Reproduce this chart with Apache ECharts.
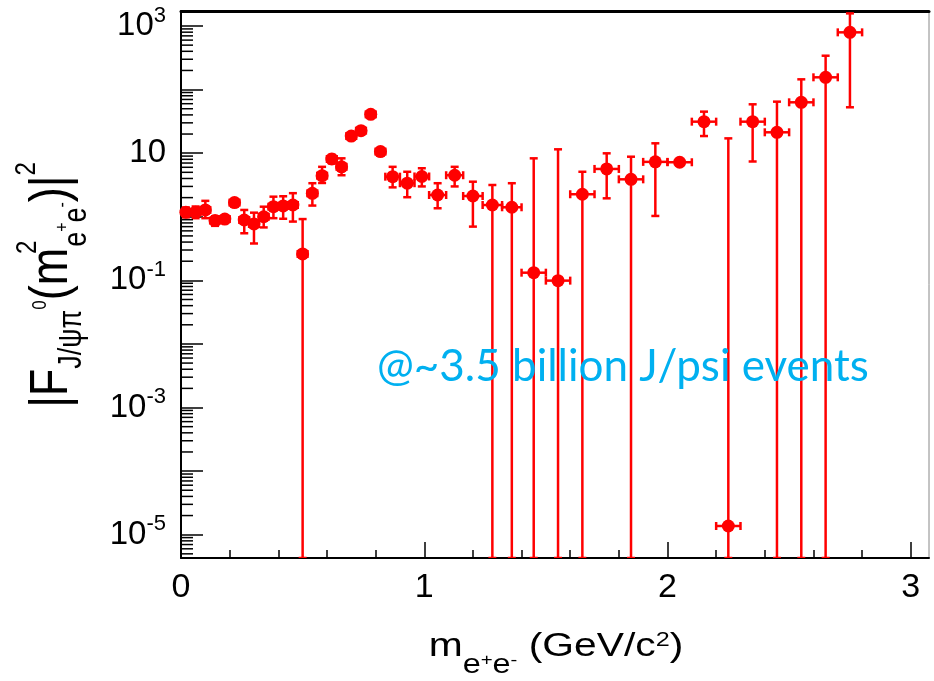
<!DOCTYPE html>
<html><head><meta charset="utf-8">
<script src="https://cdn.jsdelivr.net/npm/echarts@6/dist/echarts.min.js"></script>
<style>html,body{margin:0;padding:0;background:#fff}#c{width:934px;height:681px}</style>
</head><body><div id="c"></div>
<script>
// ---- data ----
const xCenter = [0.02,0.06,0.10,0.14,0.18,0.22,0.26,0.30,0.34,0.38,0.42,0.46,0.50,0.54,0.58,0.62,0.66,0.70,0.74,0.78,0.82,
                 0.87,0.93,0.99,1.055,1.125,1.20,1.28,1.36,1.45,1.55,1.65,1.75,1.85,1.95,2.05,2.15,2.25,2.35,2.45,2.55,2.65,2.75];
const xHalf   = [0.02,0.02,0.02,0.02,0.02,0.02,0.02,0.02,0.02,0.02,0.02,0.02,0.02,0.02,0.02,0.02,0.02,0.02,0.02,0.02,0.02,
                 0.03,0.03,0.03,0.035,0.035,0.04,0.04,0.04,0.05,0.05,0.05,0.05,0.05,0.05,0.05,0.05,0.05,0.05,0.05,0.05,0.05,0.05];
const yValue  = [1.18,1.18,1.28,0.87,0.92,1.67,0.89,0.77,1.00,1.44,1.48,1.53,0.26,2.34,4.43,8.1,6.1,18.6,22.6,40.8,10.6,
                 4.27,3.37,4.3,2.2,4.5,2.12,1.53,1.41,0.132,0.099,2.26,5.65,3.88,7.3,7.2,31.3,1.37e-5,31.3,21.3,63.1,156,795];
// null = error bar runs below the bottom of the axis
const yLow    = [0.98,0.95,0.95,0.72,0.80,1.45,0.55,0.38,0.68,0.95,0.93,0.84,null,1.5,3.4,6.9,4.5,17,20.5,37,9.3,
                 2.9,2.03,3.0,1.36,3.0,0.70,null,null,null,null,null,1.95,null,1.03,6.6,18.6,null,7.4,null,null,null,52.7];
const yHigh   = [1.40,1.45,1.78,1.02,1.05,1.90,1.28,1.16,1.44,2.07,2.10,2.35,0.92,3.37,6.1,9.4,8.3,20.5,25,45,12,
                 6.1,5.1,5.8,3.37,6.1,3.56,3.16,3.37,8.3,11.5,5.1,9.95,8.8,14.3,7.9,45,17.1,58.7,64.6,145,341,1580];

const xTickValues = [0, 1, 2, 3];
const xTickTexts = ['0', '1', '2', '3'];
const yLabelValues = [1e3, 10, 1e-1, 1e-3, 1e-5];
const yLabelTexts = ['10{s|3}', '10', '10{s|-1}', '10{s|-3}', '10{s|-5}'];
const yMinorMultipliers = [2, 3, 4, 5, 6, 7, 8, 9];
const yDecades = [1e-6, 1e-5, 1e-4, 1e-3, 1e-2, 1e-1, 1, 10, 100, 1000];

const X_MIN = 0, X_MAX = 3.075, Y_MIN = 4.3e-6, Y_MAX = 1722;
const annotation = '@~3.5 billion J/psi events';
const xTitle = 'm{sb|e}{ss|+}{sb|e}{ss|-} (GeV/c{sp|2})';
const yTitle = '|F{sb|J/ψπ}{ss|0}(m{sp2|2}{sb2|e}{ss2|+}{sb2|e}{ss2|-})|{sp|2}';

// ---- build ----
const RED = '#ff0000';
const FONT = 'Liberation Sans';
const errData = xCenter.map((x, i) => [x, yValue[i], xHalf[i], yLow[i] == null ? Y_MIN : yLow[i], yHigh[i]]);
const ptData = xCenter.map((x, i) => [x, yValue[i]]);
const minorData = [];
yDecades.forEach(d => yMinorMultipliers.forEach(m => { const v = d * m; if (v > Y_MIN && v < Y_MAX) minorData.push([X_MIN, v]); }));

function renderErr(params, api) {
  const x = api.value(0), y = api.value(1), dx = api.value(2);
  const lo = Math.max(api.value(3), Y_MIN), hi = Math.min(api.value(4), Y_MAX);
  const pLo = api.coord([x, lo]), pHi = api.coord([x, hi]);
  const pL = api.coord([x - dx, y]), pR = api.coord([x + dx, y]);
  const cap = 4;
  const st = { stroke: RED, lineWidth: 2.5 };
  const L = (x1, y1, x2, y2) => ({ type: 'line', shape: { x1, y1, x2, y2 }, style: st });
  return { type: 'group', children: [
    L(pLo[0], pLo[1], pHi[0], pHi[1]),
    L(pLo[0] - cap, pLo[1], pLo[0] + cap, pLo[1]),
    L(pHi[0] - cap, pHi[1], pHi[0] + cap, pHi[1]),
    L(pL[0], pL[1], pR[0], pR[1]),
    L(pL[0], pL[1] - cap, pL[0], pL[1] + cap),
    L(pR[0], pR[1] - cap, pR[0], pR[1] + cap)
  ]};
}
function renderMinor(params, api) {
  const p = api.coord([api.value(0), api.value(1)]);
  return { type: 'line', shape: { x1: p[0], y1: p[1], x2: p[0] + 12, y2: p[1] }, style: { stroke: '#000', lineWidth: 1.5 } };
}

const chart = echarts.init(document.getElementById('c'), null, { renderer: 'canvas' });
chart.setOption({
  animation: false,
  backgroundColor: '#fff',
  grid: { left: 181, right: 5, top: 11, bottom: 123, show: true, borderColor: '#888', borderWidth: 1, outerBoundsMode: 'none', containLabel: false },
  xAxis: [{
    type: 'value', min: X_MIN, max: X_MAX, interval: 1, position: 'bottom',
    axisLine: { show: true, onZero: false, lineStyle: { color: '#000', width: 2 } },
    axisTick: { show: true, inside: true, length: 16, customValues: xTickValues, lineStyle: { color: '#000', width: 1.5 } },
    minorTick: { show: true, splitNumber: 5, length: 8, lineStyle: { color: '#000', width: 1.5 } },
    axisLabel: { customValues: xTickValues, formatter: v => { const i = xTickValues.indexOf(v); return i >= 0 ? xTickTexts[i] : ''; },
                 fontSize: 34, fontFamily: FONT, color: '#000', margin: 13 },
    splitLine: { show: false }
  }, {
    type: 'value', min: X_MIN, max: X_MAX, position: 'top',
    axisLine: { show: true, onZero: false, lineStyle: { color: '#000', width: 3 } },
    axisTick: { show: false }, axisLabel: { show: false }, splitLine: { show: false }
  }],
  yAxis: {
    type: 'log', logBase: 10, min: Y_MIN, max: Y_MAX,
    axisLine: { show: true, onZero: false, lineStyle: { color: '#000', width: 2 } },
    axisTick: { show: true, inside: true, length: 22, lineStyle: { color: '#000', width: 1.5 } },
    minorTick: { show: false },
    splitLine: { show: false },
    axisLabel: {
      margin: 15, fontSize: 33, fontFamily: FONT, color: '#000', lineHeight: 33,
      formatter: v => {
        for (let i = 0; i < yLabelValues.length; i++) {
          if (Math.abs(Math.log10(v) - Math.log10(yLabelValues[i])) < 1e-6) return yLabelTexts[i];
        }
        return '';
      },
      rich: { s: { fontSize: 22, fontFamily: FONT, color: '#000', padding: [0, 0, 21, 0] } }
    }
  },
  graphic: [
    { type: 'text', x: 52, y: 285, rotation: Math.PI / 2, scaleY: 1.2, silent: true,
      style: {
        text: yTitle,
        fontSize: 45, fontFamily: FONT, fill: '#000', align: 'center', verticalAlign: 'middle', lineHeight: 45,
        rich: {
          sb: { fontSize: 27, fontFamily: FONT, fill: '#000', padding: [33, 0, 0, 0] },
          ss: { fontSize: 17, fontFamily: FONT, fill: '#000', padding: [0, 0, 20, 0] },
          sp2: { fontSize: 24, fontFamily: FONT, fill: '#000', padding: [0, 0, 40, 0], width: 1 },
          sb2: { fontSize: 27, fontFamily: FONT, fill: '#000', padding: [41, 0, 0, 0] },
          ss2: { fontSize: 16, fontFamily: FONT, fill: '#000', padding: [18, 0, 0, 0] },
          sp: { fontSize: 24, fontFamily: FONT, fill: '#000', padding: [0, 0, 42, 0] }
        }
      } },
    { type: 'text', x: 556, y: 647, scaleX: 1.2, silent: true,
      style: {
        text: xTitle,
        fontSize: 34, fontFamily: FONT, fill: '#000', align: 'center', verticalAlign: 'middle', lineHeight: 34,
        rich: {
          sb: { fontSize: 27, fontFamily: FONT, fill: '#000', padding: [38, 0, 0, 0] },
          ss: { fontSize: 17, fontFamily: FONT, fill: '#000', padding: [26, 0, 0, 0] },
          sp: { fontSize: 21, fontFamily: FONT, fill: '#000', padding: [0, 0, 14, 0] }
        }
      } },
    { type: 'text', x: 377, y: 367, silent: true, z: 10,
      style: { text: annotation, fontSize: 44, fontFamily: 'Lato', fill: '#00B0F0', align: 'left', verticalAlign: 'middle' } }
  ],
  series: [
    { type: 'custom', name: 'minor', xAxisIndex: 0, yAxisIndex: 0, renderItem: renderMinor, data: minorData, clip: false, silent: true, z: 5 },
    { type: 'custom', name: 'err', xAxisIndex: 0, yAxisIndex: 0, renderItem: renderErr, data: errData, clip: true, silent: true, z: 3,
      encode: { x: 0, y: 1 } },
    { type: 'scatter', name: 'F2', xAxisIndex: 0, yAxisIndex: 0, data: ptData, symbol: 'circle', symbolSize: 13,
      itemStyle: { color: RED, opacity: 1 }, z: 4, silent: true }
  ]
});
</script></body></html>
